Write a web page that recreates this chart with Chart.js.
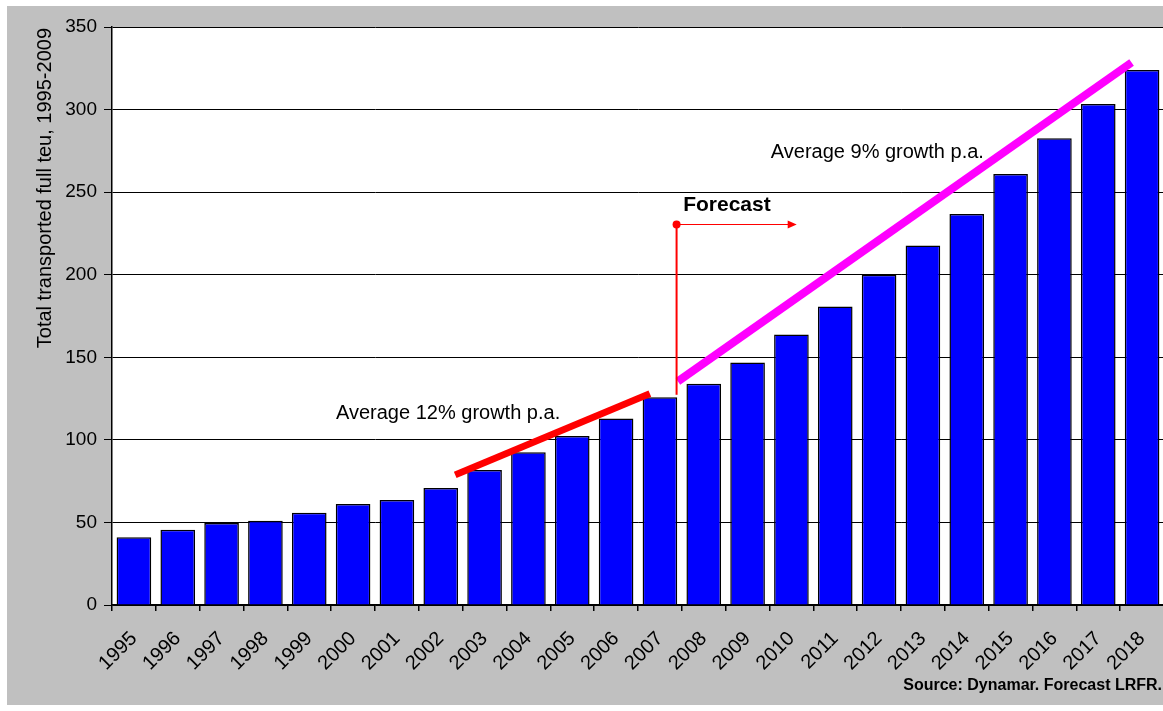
<!DOCTYPE html>
<html>
<head>
<meta charset="utf-8">
<script src="https://cdn.jsdelivr.net/npm/chart.js@4/dist/chart.umd.min.js"></script>
<style>
    html, body { margin: 0; padding: 0; background: #fff; overflow: hidden; width: 1163px; height: 711px; }
    #frame { position: absolute; left: 7px; top: 6px; width: 1160px; height: 699px; background: #c0c0c0; }
    #frame canvas { position: absolute; left: 0; top: 0; }
</style>
</head>
<body>
<div id="frame"><canvas id="teu" width="1160" height="699"></canvas></div>
<script>
    // total transported full teu per year (1995-2009 actuals, then forecast)
    var YEARS = ['1995', '1996', '1997', '1998', '1999', '2000', '2001', '2002', '2003', '2004', '2005', '2006',
        '2007', '2008', '2009', '2010', '2011', '2012', '2013', '2014', '2015', '2016', '2017', '2018'];
    var TEU = [41, 45.5, 49.7, 51, 55.8, 61.2, 63.6, 70.9, 81.8, 92.5, 102.4, 113,
        125.8, 134, 146.8, 163.8, 180.8, 200, 217.7, 236.8, 261, 282.6, 303.3, 324];
    var Y_TICKS = [0, 50, 100, 150, 200, 250, 300, 350];

    // trend lines, in (category index, teu)
    var TREND_12 = [[7.33, 78.8], [11.77, 128]];
    var TREND_9 = [[12.41, 135.4], [22.76, 328.5]];
    var FORECAST_MARK = {x: 12.38, yTop: 230.4, yBottom: 127.3, arrowTo: 15.12};

    var FONT = '"Liberation Sans", Arial, sans-serif';

    function line(ctx, xs, ys, p0, p1, color, width) {
        ctx.beginPath();
        ctx.moveTo(xs.getPixelForValue(p0[0]), ys.getPixelForValue(p0[1]));
        ctx.lineTo(xs.getPixelForValue(p1[0]), ys.getPixelForValue(p1[1]));
        ctx.strokeStyle = color;
        ctx.lineWidth = width;
        ctx.lineCap = 'butt';
        ctx.stroke();
    }

    // white plot area on the grey page
    var plotBg = {
        id: 'plotBg',
        beforeDraw: function (chart) {
            let a = chart.chartArea;
            chart.ctx.save();
            chart.ctx.fillStyle = '#fff';
            chart.ctx.fillRect(a.left, a.top, a.right - a.left, a.bottom - a.top);
            chart.ctx.restore();
        }
    };

    var notes = {
        id: 'notes',
        afterDatasetsDraw: function (chart) {
            let ctx = chart.ctx;
            let xs = chart.scales.x, ys = chart.scales.y;
            ctx.save();

            line(ctx, xs, ys, TREND_12[0], TREND_12[1], '#ff0000', 7);
            line(ctx, xs, ys, TREND_9[0], TREND_9[1], '#ff00ff', 8);

            // forecast marker: vertical rule, dot and arrow
            let fx = xs.getPixelForValue(FORECAST_MARK.x);
            let fy = ys.getPixelForValue(FORECAST_MARK.yTop);
            let fb = ys.getPixelForValue(FORECAST_MARK.yBottom);
            let ax = xs.getPixelForValue(FORECAST_MARK.arrowTo);
            ctx.strokeStyle = '#ff0000';
            ctx.fillStyle = '#ff0000';
            ctx.lineWidth = 2;
            ctx.beginPath();
            ctx.moveTo(fx, fb);
            ctx.lineTo(fx, fy);
            ctx.stroke();
            ctx.lineWidth = 1.2;
            ctx.beginPath();
            ctx.moveTo(fx, fy);
            ctx.lineTo(ax - 6, fy);
            ctx.stroke();
            ctx.beginPath();
            ctx.moveTo(ax, fy);
            ctx.lineTo(ax - 9, fy - 4);
            ctx.lineTo(ax - 9, fy + 4);
            ctx.closePath();
            ctx.fill();
            ctx.beginPath();
            ctx.arc(fx, fy, 4, 0, Math.PI * 2);
            ctx.fill();

            ctx.fillStyle = '#000';
            ctx.textAlign = 'left';
            ctx.textBaseline = 'alphabetic';
            ctx.font = 'bold 21px ' + FONT;
            ctx.fillText('Forecast', xs.getPixelForValue(12.53), ys.getPixelForValue(238.5));
            ctx.font = '20px ' + FONT;
            ctx.fillText('Average 12% growth p.a.', xs.getPixelForValue(4.61), ys.getPixelForValue(112.8));
            ctx.fillText('Average 9% growth p.a.', xs.getPixelForValue(14.53), ys.getPixelForValue(270.9));

            // axis title sits against the top of the value axis
            ctx.save();
            ctx.translate(38, chart.chartArea.top + 1);
            ctx.rotate(-Math.PI / 2);
            ctx.textAlign = 'right';
            ctx.textBaseline = 'middle';
            ctx.font = '20px ' + FONT;
            ctx.fillText('Total transported full teu, 1995-2009', 0, 0);
            ctx.restore();

            ctx.font = 'bold 16px ' + FONT;
            ctx.textAlign = 'right';
            ctx.fillText('Source: Dynamar. Forecast LRFR.', 1155, 684);
            ctx.restore();
        }
    };

    new Chart(document.getElementById('teu'), {
        type: 'bar',
        data: {
            labels: YEARS,
            datasets: [{
                data: TEU,
                backgroundColor: '#0000ff',
                borderColor: '#000',
                borderWidth: 1.5,
                barPercentage: 0.79,
                categoryPercentage: 1.0,
            }]
        },
        options: {
            responsive: false,
            animation: false,
            layout: {padding: {top: 21, right: 3, left: 0, bottom: 0}},
            plugins: {
                legend: {display: false},
                tooltip: {enabled: false},
                title: {display: false},
            },
            scales: {
                x: {
                    offset: true,
                    afterFit: function (scale) {
                        scale.height = 100;
                        scale.paddingLeft = 0;
                        scale.paddingRight = 0;
                    },
                    grid: {
                        offset: true,
                        drawOnChartArea: false,
                        drawTicks: true,
                        tickLength: 6,
                        color: '#000',
                        lineWidth: 1.5,
                    },
                    border: {display: true, color: '#000', width: 1.5},
                    ticks: {
                        autoSkip: false,
                        minRotation: 45,
                        maxRotation: 45,
                        padding: 16,
                        color: '#000',
                        font: {family: FONT, size: 20},
                    },
                },
                y: {
                    min: 0,
                    max: 350,
                    afterFit: function (scale) { scale.width = 105; },
                    afterBuildTicks: function (scale) {
                        scale.ticks = Y_TICKS.map(function (v) { return {value: v}; });
                    },
                    grid: {
                        color: '#000',
                        lineWidth: 1,
                        tickLength: 8,
                    },
                    border: {display: true, color: '#000', width: 1.5},
                    ticks: {
                        padding: 7,
                        color: '#000',
                        font: {family: FONT, size: 19},
                    },
                },
            },
        },
        plugins: [plotBg, notes],
    });
</script>
</body>
</html>
